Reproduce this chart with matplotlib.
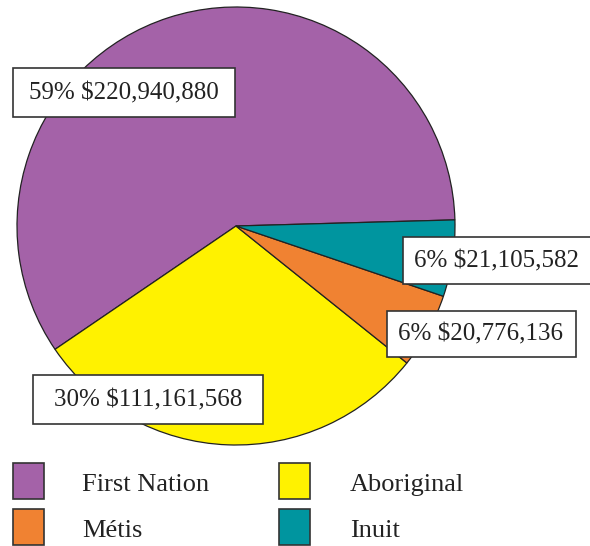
import matplotlib
matplotlib.use("Agg")
import matplotlib.pyplot as plt
from matplotlib.patches import Rectangle

# data
categories = ["First Nation", "Aboriginal", "Métis", "Inuit"]
amounts = [220940880, 111161568, 20776136, 21105582]
percent_labels = ["59%", "30%", "6%", "6%"]
colors = ["#A462A8", "#FFF200", "#F08232", "#00959F"]

# label box centres (pixels, image coords) for each slice
label_pos = [(124, 93), (148, 400), (481, 334), (497, 261)]
label_box = [(13, 68, 222, 49), (33, 375, 230, 49), (387, 311, 189, 46), (403, 237, 190, 47)]

W, H = 590, 546
fig = plt.figure(figsize=(W / 100, H / 100), dpi=100)
ax = fig.add_axes([0, 0, 1, 1])

font = "Liberation Serif"

ax.pie(amounts, colors=colors, startangle=1.6, counterclock=True,
       center=(236, H - 226), radius=219,
       wedgeprops=dict(edgecolor="#222222", linewidth=0.9))
ax.set_xlim(0, W)
ax.set_ylim(0, H)
ax.set_aspect("equal")
ax.axis("off")

for i in range(len(amounts)):
    x, y, w, h = label_box[i]
    ax.add_patch(Rectangle((x, H - y - h), w, h, facecolor="white",
                           edgecolor="#333333", linewidth=1.2, zorder=5))
    tx, ty = label_pos[i]
    ax.text(tx, H - ty, f"{percent_labels[i]} ${amounts[i]:,}", fontsize=18,
            family=font, color="#222222", ha="center", va="center", zorder=6)

# legend, two columns
leg_x = [13, 279]
leg_y = [463, 509]
text_x = [82, 350]
for i, cat in enumerate(categories):
    col = i % 2
    row = i // 2
    ax.add_patch(Rectangle((leg_x[col], H - leg_y[row] - 36), 31, 36,
                           facecolor=colors[i], edgecolor="#333333", linewidth=1.2))
    ax.text(text_x[col], H - leg_y[row] - 22, cat, fontsize=19, family=font,
            color="#222222", ha="left", va="center")

fig.savefig("out.png", dpi=100)
